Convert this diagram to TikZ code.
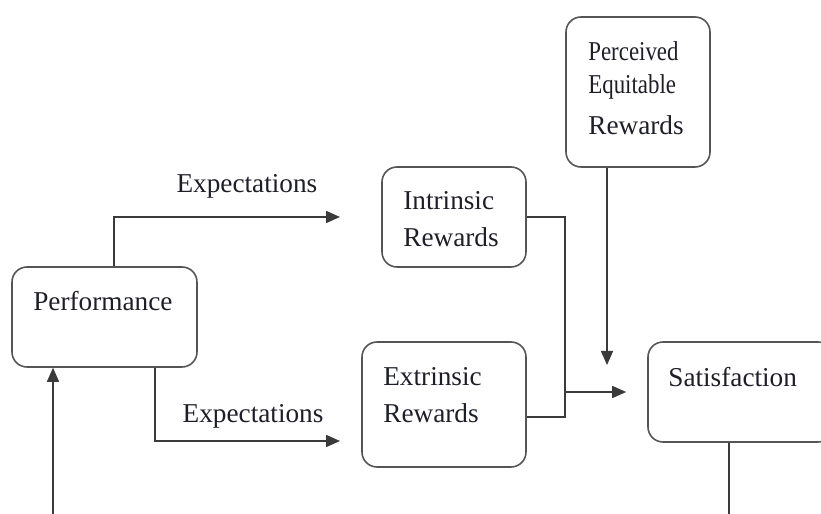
\documentclass[tikz,border=0pt]{standalone}
\usepackage{fontspec}
\setmainfont{Liberation Serif}
\newfontfamily\narrowserif{Liberation Serif}[FakeStretch=0.84]
\usetikzlibrary{arrows.meta,positioning}
\definecolor{linegray}{HTML}{3A3A3A}
\definecolor{boxgray}{HTML}{555555}
\definecolor{inkdark}{HTML}{1E1E28}
\begin{document}
\begin{tikzpicture}[
        panel/.style={draw=boxgray, line width=0.9pt, rounded corners=0.3cm, inner sep=0pt},
        caption/.style={anchor=north west, align=left, inner sep=0pt, text=inkdark,
            font=\fontsize{15.5}{21.2}\selectfont},
        edgelabel/.style={anchor=base, inner sep=0pt, text=inkdark,
            font=\fontsize{15.5}{21.2}\selectfont},
        wire/.style={draw=linegray, line width=0.85pt},
        arr/.style={wire, -{Triangle[length=0.28cm, width=0.24cm]}}
    ]
        \useasboundingbox (0,0) rectangle (16.42,10.28);
        % boxes
        \node[panel, minimum width=3.70cm, minimum height=2.00cm] (perf) at (2.09,3.94) {};
        \node[panel, minimum width=2.88cm, minimum height=2.00cm] (intr) at (9.08,5.94) {};
        \node[panel, minimum width=2.88cm, minimum height=3.00cm] (perc) at (12.76,8.44) {};
        \node[panel, minimum width=3.28cm, minimum height=2.50cm] (extr) at (8.88,2.19) {};
        \node[panel, minimum width=3.70cm, minimum height=2.00cm] (sat) at (14.81,2.44) {};
        % texts
        \node[caption] (perftext) at (0.66,4.46) {Performance};
        \node[caption] (intrtext) at (8.06,6.46) {Intrinsic\\Rewards};
        \node[caption] (perctext) at (11.76,9.46)
            {\narrowserif Perceived\\[-0.08cm]\narrowserif Equitable\\[0.08cm]Rewards};
        \node[caption] (extrtext) at (7.66,2.94) {Extrinsic\\Rewards};
        \node[caption] (sattext) at (13.36,2.94) {Satisfaction};
        % free ends and bends
        \coordinate (hi end) at (6.80,5.94);
        \coordinate (lo end) at (6.80,1.46);
        \coordinate (merge) at (11.30,1.94);
        \coordinate (drop end) at (12.14,2.98);
        \coordinate (loop low) at (14.58,-0.01);
        % expectations
        \draw[arr] ([xshift=0.19cm]perf.north) |- (hi end)
            node[edgelabel, pos=0.794, yshift=0.48cm] (hitext) {Expectations};
        \draw[arr] ([xshift=1.01cm]perf.south) |- (lo end)
            node[edgelabel, pos=0.765, yshift=0.36cm] (lotext) {Expectations};
        % rewards to satisfaction
        \draw[wire] (intr.east) -| (merge) -- (merge -| extr.east);
        \draw[arr, shorten >=0.42cm] (merge |- sat.west) -- (sat.west);
        \draw[arr] (perc.south -| drop end) -- (drop end);
        % feedback
        \draw[arr] (sat.south -| loop low) -- (loop low) -| ([xshift=-1.03cm]perf.south);
\end{tikzpicture}
\end{document}
